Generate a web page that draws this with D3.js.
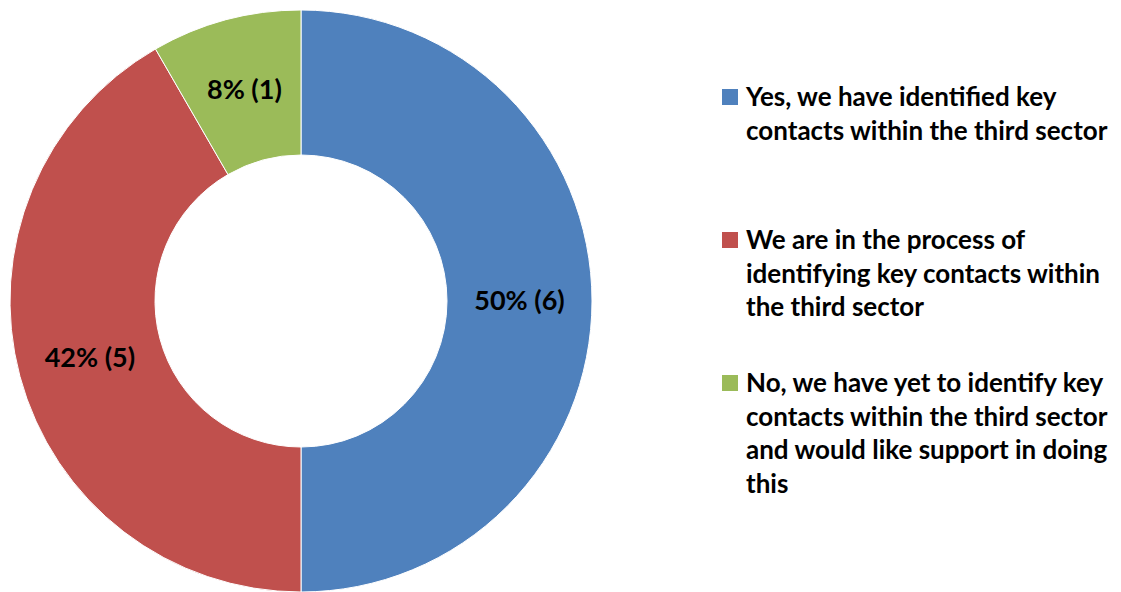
<!DOCTYPE html>
<html>
<head>
<meta charset="utf-8">
<script src="https://cdn.jsdelivr.net/npm/d3@7"></script>
<style>
  body { margin: 0; background: #fff; }
  text { font-family: Lato, "Open Sans", sans-serif; font-weight: bold; }
</style>
</head>
<body>
<div id="chart"></div>
<script>
const categories = [
  "Yes, we have identified key contacts within the third sector",
  "We are in the process of identifying key contacts within the third sector",
  "No, we have yet to identify key contacts within the third sector and would like support in doing this"
];
// legend text broken the way it wraps in the picture
const legendLines = [
  ["Yes, we have identified key", "contacts within the third sector"],
  ["We are in the process of", "identifying key contacts within", "the third sector"],
  ["No, we have yet to identify key", "contacts within the third sector", "and would like support in doing", "this"]
];
const counts = [6, 5, 1];
const colors = ["#4F81BD", "#C0504D", "#9BBB59"];

const width = 1121, height = 592;
const cx = 301, cy = 301;
const outerR = 291, innerR = 146;

const svg = d3.select("#chart")
  .append("svg")
  .attr("width", width)
  .attr("height", height);

const total = d3.sum(counts);
const pie = d3.pie().sort(null).value(d => d)(counts);
const arc = d3.arc().innerRadius(innerR).outerRadius(outerR);

const g = svg.append("g").attr("transform", `translate(${cx},${cy})`);

g.selectAll("path")
  .data(pie)
  .enter().append("path")
  .attr("d", arc)
  .attr("fill", (d, i) => colors[i])
  .attr("stroke", "#fff")
  .attr("stroke-width", 1);

g.selectAll(".lbl")
  .data(pie)
  .enter().append("text")
  .attr("class", "lbl")
  .attr("transform", d => `translate(${arc.centroid(d)})`)
  .attr("text-anchor", "middle")
  .attr("dy", "0.35em")
  .style("font-size", "27px")
  .style("fill", "#000")
  .text(d => `${Math.round(d.value / total * 100)}% (${d.value})`);

// legend
const legendTop = [97, 240, 383];
const lineH = 33.5;
const legend = svg.append("g");

legendLines.forEach((lines, i) => {
  const item = legend.append("g").attr("transform", `translate(722,${legendTop[i]})`);
  item.append("rect")
    .attr("x", 0).attr("y", -8)
    .attr("width", 16).attr("height", 16)
    .attr("fill", colors[i]);
  item.selectAll("text")
    .data(lines)
    .enter().append("text")
    .attr("x", 24)
    .attr("y", (d, j) => j * lineH)
    .attr("dy", "0.35em")
    .style("font-size", "26px")
    .style("fill", "#000")
    .text(d => d);
});
</script>
</body>
</html>
